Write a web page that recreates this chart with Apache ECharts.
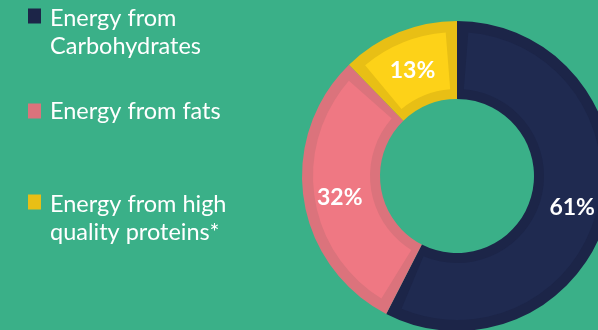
<!DOCTYPE html>
<html style="height: 100%">
<head>
<meta charset="UTF-8">
<title>Energy sources</title>
<script src="https://cdn.jsdelivr.net/npm/echarts@6/dist/echarts.min.js"></script>
</head>
<body style="height: 100%; margin: 0; background: #3ab088">
<div id="container" style="width: 598px; height: 330px"></div>
<script type="text/javascript">
// slice names (legend text) and values, clockwise from 12 o'clock
var names = ['Energy from Carbohydrates', 'Energy from fats', 'Energy from high quality proteins*'];
var legendLines = [['Energy from', 'Carbohydrates'], ['Energy from fats'], ['Energy from high', 'quality proteins*']];
var values = [61, 32, 13];

// edge (darker) and fill (lighter) colours per slice
var edgeColors = ['#1c2548', '#db737c', '#e8bf15'];
var fillColors = ['#1f2a50', '#ef7883', '#fdd218'];

var dom = document.getElementById('container');
var myChart = echarts.init(dom);

function buildData(colors) {
    return names.map(function (n, i) {
        return {name: n, value: values[i], itemStyle: {color: colors[i]}};
    });
}

function makeLegend(i, top) {
    var lines = legendLines[i];
    return {
        data: [names[i]],
        left: 28,
        top: top,
        padding: 0,
        orient: 'vertical',
        icon: 'rect',
        itemWidth: 13,
        itemHeight: 15,
        selectedMode: false,
        formatter: function () {
            var txt = lines.map(function (l) { return '{t|' + l + '}'; }).join('\n');
            // a spacer line on top keeps the icon beside the first line
            return lines.length > 1 ? '{s| }\n' + txt : txt;
        },
        textStyle: {
            color: '#fff',
            padding: [0, 0, 0, 4],
            rich: {
                s: {fontSize: 10, lineHeight: 32},
                t: {color: '#fff', fontFamily: 'Lato', fontSize: 23.5, lineHeight: 28}
            }
        }
    };
}

var option = {
    backgroundColor: '#3ab088',
    animation: false,
    legend: [
        makeLegend(0, -17),
        makeLegend(1, 99),
        makeLegend(2, 169)
    ],
    series: [{
        // darker ring giving the inset border
        type: 'pie',
        center: [457, 176],
        radius: [77, 155],
        clockwise: true,
        startAngle: 90,
        label: {show: false},
        labelLine: {show: false},
        silent: true,
        data: buildData(edgeColors)
    }, {
        type: 'pie',
        center: [457, 176],
        radius: [87, 144],
        clockwise: true,
        startAngle: 90,
        padAngle: 9,
        z: 3,
        silent: true,
        label: {
            show: true,
            position: 'inside',
            formatter: '{c}%',
            offset: [0, 4],
            color: '#fff',
            fontFamily: 'Lato',
            fontWeight: 'bold',
            fontSize: 23
        },
        labelLine: {show: false},
        data: buildData(fillColors)
    }]
};

myChart.setOption(option);
</script>
</body>
</html>
